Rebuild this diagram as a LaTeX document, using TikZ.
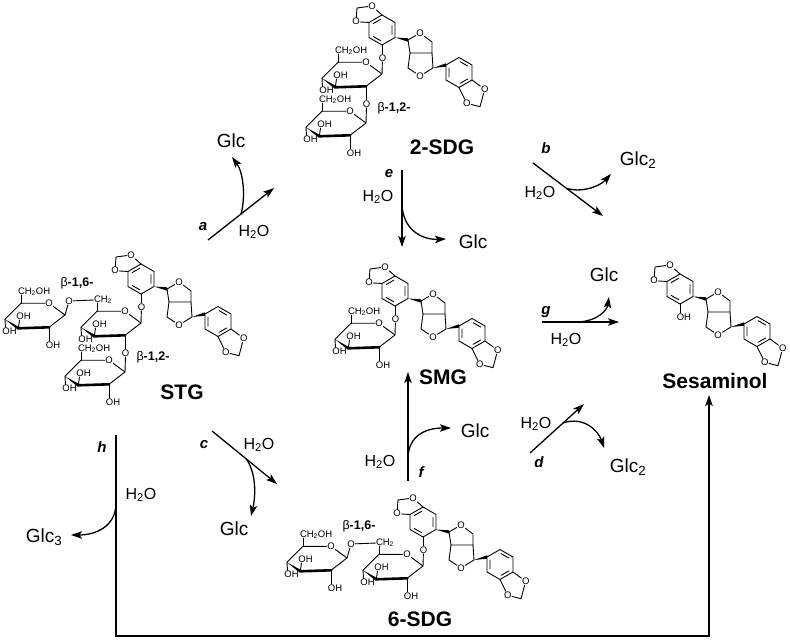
\documentclass[tikz,border=0pt]{standalone}
\usepackage{fontspec}
\setmainfont{Liberation Sans}
\usetikzlibrary{arrows.meta}
\tikzset{
 bond/.style={line width=0.9pt, line join=round, line cap=round},
 bbond/.style={line width=2.6pt, line cap=round},
 atom/.style={inner sep=0.4pt, font=\fontsize{9.5}{9.5}\selectfont},
 rxn/.style={line width=1.3pt, -{Stealth[length=11pt,width=7.5pt,inset=2.5pt]}},
 glc/.style={font=\fontsize{19}{19}\selectfont, inner sep=0},
 water/.style={font=\fontsize{16}{16}\selectfont, inner sep=0},
 rlab/.style={font=\fontsize{15}{15}\selectfont\bfseries\itshape, inner sep=0},
 cname/.style={font=\fontsize{21}{21}\selectfont\bfseries, inner sep=0},
 link/.style={font=\fontsize{12.5}{12.5}\selectfont, inner sep=0},
}
% aglycone: #1,#2 centre of ring A; #3 label under ring A; #4 name prefix
\newcommand{\Agly}[4]{%
\begin{scope}[shift={(#1,#2)}]
 \draw[bond] (0,-15)--(13,-7.5)--(13,7.5)--(0,15)--(-13,7.5)--(-13,-7.5)--cycle;
 \draw[bond] (9.96,-4.37)--(9.96,4.37) (-1.2,10.81)--(-8.76,6.44) (-8.76,-6.44)--(-1.2,-10.81);
 \node[atom] (#4a1) at (-10,-24) {O};
 \node[atom] (#4a2) at (-26,-8.3) {O};
 \coordinate (#4a3) at (-25,-22);
 \draw[bond] (0,-15)--(#4a1)--(#4a3)--(#4a2)--(-13,-7.5);
 \fill (13,7.5)--(26,8.3)--(26,11.7)--cycle;
 \coordinate (#4c1) at (26,10);
 \coordinate (#4c2) at (50,12);
 \coordinate (#4c3) at (50,23);
 \coordinate (#4c4) at (28,23);
 \coordinate (#4c5) at (26,38);
 \coordinate (#4c6) at (51,38);
 \node[atom] (#4o1) at (38,3) {O};
 \node[atom] (#4o2) at (38,46) {O};
 \draw[bond] (#4c1)--(#4o1)--(#4c2)--(#4c3)--(#4c4)--(#4c1);
 \draw[bond] (#4c4)--(#4c5)--(#4o2)--(#4c6)--(#4c3);
 \fill (#4c6)--(64,33.3)--(64,36.7)--cycle;
 \begin{scope}[shift={(77,42.5)}]
  \draw[bond] (0,-15)--(13,-7.5)--(13,7.5)--(0,15)--(-13,7.5)--(-13,-7.5)--cycle;
  \draw[bond] (1.2,-10.81)--(8.76,-6.44) (8.76,6.44)--(1.2,10.81) (-9.96,4.37)--(-9.96,-4.37);
 \end{scope}
 \node[atom] (#4b1) at (102.7,59.3) {O};
 \node[atom] (#4b2) at (84.7,73.3) {O};
 \coordinate (#4b3) at (98,76.7);
 \draw[bond] (90,50)--(#4b1)--(#4b3)--(#4b2)--(77,57.5);
 \draw[bond] (0,15)--(0,24);
 \node[atom, anchor=north west] (#4s) at (-3.8,24) {#3};
\end{scope}}
% glucose: #1,#2 anomeric C1; #3 prefix; #4 label on C5; #5 label on C2
\newcommand{\Glu}[5]{%
\begin{scope}[shift={(#1,#2)}]
 \coordinate (#3C1) at (0,0);
 \node[atom] (#3O5) at (-16,-11.7) {O};
 \coordinate (#3C5) at (-44,-11.7);
 \coordinate (#3C4) at (-60,4.3);
 \coordinate (#3C3) at (-46.7,13.3);
 \coordinate (#3C2) at (-16,12.3);
 \draw[bond] (#3C2)--(#3C1)--(#3O5)--(#3C5)--(#3C4);
 \fill (#3C4)--(-47.4,14.6)--(-46,12)--cycle;
 \draw[bbond] (#3C3)--(#3C2);
 \draw[bond] (#3C5)--(-44,-20);
 \node[atom, anchor=base west] (#3t) at (-47.6,-20.8) {#4};
 \draw[bond] (#3C4)--(-59.5,12.5);
 \node[atom, anchor=north west] (#3h4) at (-63.2,12.5) {OH};
 \draw[bond] (#3C3)--(-45.5,5);
 \node[atom, anchor=base west] (#3h3) at (-49.2,4.2) {OH};
 \draw[bond] (#3C2)--(-16,26);
 \node[atom, anchor=north west] (#3h2) at (-19.7,26) {#5};
\end{scope}}
\begin{document}
\begin{tikzpicture}[x=1pt,y=-1pt]
\fill[white] (0,0) rectangle (790,644);
\useasboundingbox (0,0) rectangle (790,644);

% ---------- 2-SDG ----------
\Agly{382}{30}{O}{sdg}
\Glu{382}{74}{sdgU}{CH\textsubscript{2}OH}{O}
\Glu{366}{123}{sdgL}{CH\textsubscript{2}OH}{OH}
\draw[bond] (sdgs)--(sdgUC1);
\draw[bond] (sdgUh2)--(sdgLC1);
\node[link] (sdgbl) at (394,108) {β\textbf{-1,2-}};
\node[cname] (n2sdg) at (442,147) {2-SDG};

% ---------- STG ----------
\Agly{141}{279}{O}{stg}
\Glu{141}{323}{stgM}{CH\textsubscript{2}}{O}
\Glu{125}{372}{stgB}{CH\textsubscript{2}OH}{OH}
\Glu{65}{315}{stgL}{CH\textsubscript{2}OH}{OH}
\draw[bond] (stgs)--(stgMC1);
\draw[bond] (stgMh2)--(stgBC1);
\node[atom] (stgO6) at (69,301) {O};
\draw[bond] (stgO6)--(stgMt);
\draw[bond] (stgO6)--(stgLC1);
\node[link] (stgl6) at (77,283) {β\textbf{-1,6-}};
\node[link] (stgl2) at (153,357) {β\textbf{-1,2-}};
\node[cname] (nstg) at (182,392) {STG};

% ---------- SMG ----------
\Agly{395}{291}{O}{smg}
\Glu{395}{335}{smgG}{CH\textsubscript{2}OH}{OH}
\draw[bond] (smgs)--(smgGC1);
\node[cname] (nsmg) at (443,377) {SMG};

% ---------- Sesaminol ----------
\Agly{680}{289}{OH}{ses}
\node[cname] (nses) at (715,381) {Sesaminol};

% ---------- 6-SDG ----------
\Agly{423}{522}{O}{six}
\Glu{423}{566}{sixM}{CH\textsubscript{2}}{OH}
\Glu{347}{558}{sixL}{CH\textsubscript{2}OH}{OH}
\draw[bond] (sixs)--(sixMC1);
\node[atom] (sixO6) at (351,544) {O};
\draw[bond] (sixO6)--(sixMt);
\draw[bond] (sixO6)--(sixLC1);
\node[link] (sixl6) at (359,526) {β\textbf{-1,6-}};
\node[cname] (n6sdg) at (420,619) {6-SDG};

% ---------- reaction a ----------
\coordinate (aS) at (208,240); \coordinate (aE) at (274,188);
\coordinate (aM) at (241,214); \coordinate (aG) at (232,157);
\draw[rxn] (aS)--(aE);
\draw[rxn] (aM) .. controls (246,196) and (243,172) .. (aG);
\node[glc] (ga) at (231,141) {Glc};
\node[rlab] (la) at (203,227) {a};
\node[water] (wa) at (254,232) {H\textsubscript{2}O};

% ---------- reaction e ----------
\coordinate (eS) at (402,170); \coordinate (eE) at (402,247);
\coordinate (eM) at (402,205); \coordinate (eG) at (446,239);
\draw[rxn] (eS)--(eE);
\draw[rxn] (eM) .. controls (403,228) and (420,240) .. (eG);
\node[rlab] (le) at (389,174) {e};
\node[water] (we) at (378,197) {H\textsubscript{2}O};
\node[glc] (ge) at (473,242) {Glc};

% ---------- reaction b ----------
\coordinate (bS) at (533,163); \coordinate (bE) at (603,216);
\coordinate (bM) at (567,188.5); \coordinate (bG) at (611,174);
\draw[rxn] (bS)--(bE);
\draw[rxn] (bM) .. controls (583,193) and (600,186) .. (bG);
\node[rlab] (lb) at (546,148) {b};
\node[water] (wb) at (540,193) {H\textsubscript{2}O};
\node[glc] (gb) at (638,160) {Glc\textsubscript{2}};

% ---------- reaction g ----------
\coordinate (gS) at (542,322); \coordinate (gE) at (619,322);
\coordinate (gM) at (578,322); \coordinate (gG) at (609,297);
\draw[rxn] (gS)--(gE);
\draw[rxn] (gM) .. controls (598,321) and (607,310) .. (gG);
\node[rlab] (lg) at (546,312) {g};
\node[water] (wg) at (566,340) {H\textsubscript{2}O};
\node[glc] (gg) at (604,275) {Glc};

% ---------- reaction f ----------
\coordinate (fS) at (408,481); \coordinate (fE) at (408,372);
\coordinate (fM) at (408,457); \coordinate (fG) at (451,428);
\draw[rxn] (fS)--(fE);
\draw[rxn] (fM) .. controls (409,436) and (425,428) .. (fG);
\node[rlab] (lf) at (421,472) {f};
\node[water] (wf) at (380,462) {H\textsubscript{2}O};
\node[glc] (gf) at (475,431) {Glc};

% ---------- reaction d ----------
\coordinate (dS) at (530,453); \coordinate (dE) at (584,404);
\coordinate (dM) at (563,423); \coordinate (dG) at (604,448);
\draw[rxn] (dS)--(dE);
\draw[rxn] (dM) .. controls (583,416) and (598,430) .. (dG);
\node[rlab] (ld) at (539,462) {d};
\node[water] (wd) at (536,424) {H\textsubscript{2}O};
\node[glc] (gd) at (628,467) {Glc\textsubscript{2}};

% ---------- reaction c ----------
\coordinate (cS) at (212,431); \coordinate (cE) at (277,484);
\coordinate (cM) at (246,458.5); \coordinate (cG) at (251,516);
\draw[rxn] (cS)--(cE);
\draw[rxn] (cM) .. controls (256,472) and (256,495) .. (cG);
\node[rlab] (lc) at (204,445) {c};
\node[water] (wc) at (259,445) {H\textsubscript{2}O};
\node[glc] (gc) at (234,529) {Glc};

% ---------- reaction h ----------
\coordinate (hS) at (116,435); \coordinate (h1) at (116,636);
\coordinate (h2) at (709,636); \coordinate (hE) at (709,395);
\coordinate (hM) at (116,503); \coordinate (hG) at (71,535);
\draw[rxn] (hS)--(h1)--(h2)--(hE);
\draw[rxn] (hM) .. controls (116,527) and (95,535) .. (hG);
\node[rlab] (lh) at (102,447) {h};
\node[water] (wh) at (141,495) {H\textsubscript{2}O};
\node[glc] (gh) at (44,537) {Glc\textsubscript{3}};
\end{tikzpicture}
\end{document}
